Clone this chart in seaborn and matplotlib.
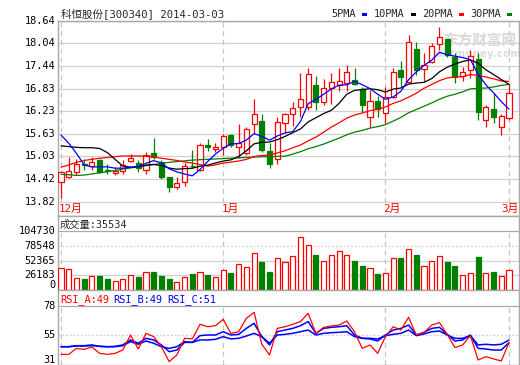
import numpy as np
import pandas as pd
import matplotlib
matplotlib.use("Agg")
import matplotlib.pyplot as plt
import matplotlib.transforms as mtrans
from matplotlib.patches import Rectangle
import seaborn as sns

# ---------------- data ----------------
title = "科恒股份[300340] 2014-03-03"
opens = [14.34, 14.47, 14.60, 14.83, 14.78, 14.93, 14.67, 14.59, 14.63, 14.91,
         14.86, 14.66, 15.11, 14.89, 14.47, 14.20, 14.34, 14.78, 14.67, 15.33,
         15.22, 15.27, 15.60, 15.27, 15.11, 15.88, 15.98, 15.17, 14.96, 15.91,
         16.15, 16.34, 16.34, 16.93, 16.49, 16.84, 16.93, 16.98, 17.06, 16.82,
         16.07, 16.51, 16.18, 16.60, 17.33, 17.00, 17.88, 17.35, 17.55, 18.02,
         18.15, 17.69, 17.18, 17.33, 17.62, 16.00, 16.29, 15.82, 16.05]
highs = [14.65, 15.02, 14.96, 14.96, 15.00, 14.96, 14.83, 14.75, 14.93, 15.09,
         14.93, 15.14, 15.53, 14.92, 14.48, 14.47, 14.84, 15.20, 15.38, 15.49,
         15.38, 15.62, 15.62, 15.89, 15.80, 16.56, 16.16, 15.38, 16.07, 16.19,
         16.49, 17.24, 17.38, 17.17, 17.08, 17.24, 17.38, 17.46, 17.38, 16.89,
         16.80, 16.64, 16.87, 17.39, 17.57, 18.26, 18.09, 17.78, 18.04, 18.49,
         18.17, 17.78, 17.42, 17.87, 17.78, 16.40, 16.73, 16.16, 16.95]
lows = [13.91, 14.45, 14.53, 14.66, 14.67, 14.58, 14.55, 14.53, 14.55, 14.89,
        14.60, 14.57, 14.97, 14.42, 14.07, 14.15, 14.25, 14.71, 14.63, 15.16,
        15.15, 15.07, 15.27, 14.98, 15.06, 15.66, 15.15, 14.71, 14.83, 15.66,
        15.84, 16.09, 16.26, 16.26, 16.40, 16.42, 16.77, 16.77, 16.93, 16.22,
        15.82, 16.09, 15.91, 16.58, 16.89, 16.98, 17.20, 17.05, 17.51, 17.86,
        17.69, 16.98, 17.05, 17.11, 16.00, 15.80, 15.91, 15.60, 16.00]
closes = [14.60, 14.64, 14.82, 14.80, 14.87, 14.62, 14.64, 14.64, 14.80, 14.99,
          14.72, 15.07, 15.00, 14.48, 14.22, 14.31, 14.78, 14.76, 15.33, 15.29,
          15.29, 15.57, 15.33, 15.38, 15.75, 16.15, 15.20, 14.83, 15.94, 16.16,
          16.31, 16.55, 17.22, 16.49, 16.86, 17.02, 17.05, 17.27, 16.96, 16.40,
          16.51, 16.29, 16.60, 17.27, 17.15, 18.07, 17.33, 17.46, 17.97, 18.20,
          17.73, 17.15, 17.27, 17.71, 16.22, 16.35, 16.07, 16.10, 16.71]
volumes = [39100, 37300, 21600, 18700, 25100, 25600, 18700, 16400, 19900, 26900,
           23900, 32100, 32600, 25600, 18700, 14700, 23400, 29100, 32100, 27400,
           22200, 34900, 30900, 46100, 41400, 65300, 49600, 32100, 56600, 49600,
           60000, 93200, 79200, 62300, 51300, 61800, 68800, 61800, 51800, 43100,
           39100, 29100, 30400, 56600, 57100, 72300, 62300, 42600, 51300, 60000,
           50100, 43100, 26900, 30400, 58800, 30400, 32600, 25600, 35534]
# moving-average values visible before enough in-window history exists
ma5_head = [15.60, 15.38, 15.11, 14.80]
ma10_head = [15.31, 15.29, 15.27, 15.26, 15.26, 15.24, 15.13, 14.95, 14.77]
ma20_head = [14.74, 14.80, 14.87, 14.92, 14.95, 14.98, 15.00, 15.02, 15.04, 15.04,
             15.04, 15.03, 15.01, 14.98, 14.95, 14.92, 14.88, 14.85, 14.81]
ma30_head = [14.55, 14.54, 14.52, 14.53, 14.56, 14.59, 14.62, 14.65, 14.69, 14.72,
             14.75, 14.78, 14.81, 14.84, 14.87, 14.89, 14.91, 14.93, 14.94, 14.95,
             14.96, 14.97, 14.98, 14.99, 15.00, 15.01, 15.02, 15.02, 15.03]
rsi_a = [39.8, 39.8, 44.5, 43.7, 45.6, 40.6, 39.8, 40.6, 43.2, 55.0,
         44.0, 56.3, 53.7, 45.8, 34.1, 39.3, 52.4, 51.9, 63.4, 61.5,
         62.3, 67.3, 56.3, 57.6, 68.1, 72.8, 47.7, 39.3, 60.2, 61.5,
         63.4, 65.5, 72.0, 56.3, 61.0, 62.1, 62.8, 66.0, 57.6, 44.5,
         47.2, 40.6, 53.7, 61.5, 58.9, 68.9, 55.0, 56.8, 62.8, 64.7,
         55.5, 45.1, 47.2, 54.5, 35.4, 38.0, 36.2, 34.6, 49.0]
rsi_b = [45.8, 45.8, 46.6, 46.6, 47.2, 46.1, 45.8, 46.1, 47.2, 51.1,
         48.5, 52.4, 51.1, 47.2, 41.9, 43.2, 49.2, 49.2, 54.5, 55.0,
         55.0, 57.6, 55.0, 55.5, 60.2, 64.2, 53.7, 47.2, 57.6, 58.9,
         60.2, 62.3, 65.5, 56.3, 60.2, 61.0, 61.5, 62.3, 55.0, 52.4,
         51.9, 50.3, 55.0, 58.9, 60.2, 62.8, 55.0, 57.1, 60.2, 61.0,
         55.5, 50.3, 51.1, 55.0, 44.5, 44.0, 43.2, 43.2, 49.0]
rsi_c = [45.8, 45.8, 46.4, 46.4, 46.6, 46.1, 45.8, 45.8, 46.6, 49.8,
         47.7, 50.3, 48.5, 45.8, 44.5, 45.8, 49.8, 49.2, 51.1, 51.1,
         51.6, 53.7, 51.9, 52.4, 54.2, 56.3, 53.7, 48.5, 55.0, 55.5,
         56.3, 57.6, 58.9, 55.0, 56.3, 56.8, 57.1, 57.6, 53.7, 52.4,
         52.4, 51.9, 54.5, 55.5, 56.3, 58.9, 54.5, 55.8, 57.6, 58.1,
         55.0, 52.4, 52.4, 54.5, 47.2, 47.7, 47.2, 47.7, 51.0]
month_labels = ["12月", "1月", "2月", "3月"]
month_starts = [0, 21, 42, 58]
price_ticks = [13.82, 14.42, 15.03, 15.63, 16.23, 16.83, 17.44, 18.04, 18.64]
vol_ticks = [0, 26183, 52365, 78548, 104730]
rsi_ticks = [31, 55, 78]
ma_names = ["5PMA", "10PMA", "20PMA", "30PMA"]

# ---------------- derived ----------------
n = len(closes)
idx = np.arange(n)
cs = pd.Series(closes)
def moving(win, head):
    m = cs.rolling(win).mean().to_numpy()
    m[:len(head)] = head
    return m
ma5 = moving(5, ma5_head)
ma10 = moving(10, ma10_head)
ma20 = moving(20, ma20_head)
ma30 = moving(30, ma30_head)

RED = "#ff0000"
GREEN = "#008000"
BLUE = "#0000ff"
FRAME = "#a8a8a8"
GRID = "#d0d0d0"
MONO = "DejaVu Sans Mono"
CJK = ["DejaVu Sans Mono", "Noto Sans CJK SC"]

sns.set_style("white")
plt.rcParams["font.family"] = ["DejaVu Sans", "Noto Sans CJK SC"]

W, H = 520, 365
fig = plt.figure(figsize=(W / 100, H / 100), dpi=100)

def rect(x0, y0, x1, y1):
    return [x0 / W, 1 - y1 / H, (x1 - x0) / W, (y1 - y0) / H]

step = 7.724
XL = (-(61 - 58) / step, 58 + (519 - 509.0) / step)

# ---- price panel ----
axp = fig.add_axes(rect(58, 21, 519, 216))
pscale = 37.5
axp.set_ylim(13.82 - (216 - 201.7) / pscale, 18.64)
axp.set_xlim(*XL)

# ---- volume panel ----
axv = fig.add_axes(rect(58, 216, 519, 290))
axv.set_ylim(0, 104730 * (290 - 216) / (290 - 231))
axv.set_xlim(*XL)

# ---- RSI panel ----
axr = fig.add_axes(rect(58, 290, 519, 365))
rscale = (335 - 305.7) / 23.0
axr.set_ylim(55 - (365 - 335) / rscale, 78 + (305.7 - 290) / rscale)
axr.set_xlim(*XL)

for ax in (axp, axv, axr):
    ax.set_facecolor("white")
    ax.set_xticks([])
    ax.set_yticks([])
    for s in ax.spines.values():
        s.set_color(FRAME)
        s.set_linewidth(1.0)
        s.set_visible(True)

# gridlines
for t in price_ticks:
    axp.axhline(t, color=GRID if t != 18.64 else FRAME, lw=0.9, zorder=0)
for t in vol_ticks[1:]:
    ls = (0, (1.5, 1.5)) if t == 78548 else "-"
    axv.axhline(t, color=GRID if t != 104730 else FRAME, lw=0.9, ls=ls, zorder=0)
axr.axhline(55, color=GRID, lw=0.9, ls=(0, (1.5, 1.5)), zorder=0)
axr.axhline(78, color=FRAME, lw=0.9, zorder=0)

# month dashed lines
for m in month_starts:
    axp.vlines(m, 13.82, 18.64, color="#c4c4c4", lw=0.9, ls=(0, (4, 3)), zorder=0)
    axv.vlines(m, 0, 104730, color="#c4c4c4", lw=0.9, ls=(0, (4, 3)), zorder=0)
    axr.vlines(m, axr.get_ylim()[0], 78, color="#c4c4c4", lw=0.9, ls=(0, (4, 3)), zorder=0)

# watermark
axp.text(0.915, 0.9, "东方财富网", transform=axp.transAxes, ha="center", va="center",
         fontsize=10.5, fontweight="bold", color="#d9d9d9", family=["Noto Sans CJK SC"], zorder=0.5)
axp.text(0.905, 0.83, "eastmoney.com", transform=axp.transAxes, ha="center", va="center",
         fontsize=7.5, fontweight="bold", color="#dcdcdc", family="DejaVu Sans", zorder=0.5)

# candles
bw = 0.66
for i in range(n):
    o, h, l, c = opens[i], highs[i], lows[i], closes[i]
    up = c >= o
    col = RED if up else GREEN
    lo_b, hi_b = min(o, c), max(o, c)
    hgt = max(hi_b - lo_b, 0.012)
    if up:
        axp.vlines(i, hi_b, h, color=col, lw=0.9, zorder=2)
        axp.vlines(i, l, lo_b, color=col, lw=0.9, zorder=2)
        axp.bar(i, hgt, bottom=lo_b, width=bw, facecolor="white", edgecolor=col, linewidth=0.9, zorder=3)
    else:
        axp.vlines(i, l, h, color=col, lw=0.9, zorder=2)
        axp.bar(i, hgt, bottom=lo_b, width=bw, facecolor=col, edgecolor=col, linewidth=0.9, zorder=3)

ma_df = pd.DataFrame({"idx": idx, "ma5": ma5, "ma10": ma10, "ma20": ma20, "ma30": ma30})
for col, clr in (("ma30", GREEN), ("ma20", RED), ("ma10", "black"), ("ma5", BLUE)):
    sns.lineplot(data=ma_df, x="idx", y=col, ax=axp, color=clr, linewidth=0.9, zorder=4)

# volume bars
for i in range(n):
    up = closes[i] >= opens[i]
    col = RED if up else GREEN
    axv.bar(i, volumes[i], width=bw, facecolor="white" if up else col, edgecolor=col,
            linewidth=0.9, zorder=3)

# RSI lines
rsi_df = pd.DataFrame({"idx": idx, "a": rsi_a, "b": rsi_b, "c": rsi_c})
sns.lineplot(data=rsi_df, x="idx", y="c", ax=axr, color=BLUE, linewidth=1.1, zorder=3)
sns.lineplot(data=rsi_df, x="idx", y="b", ax=axr, color=BLUE, linewidth=1.1, zorder=3)
sns.lineplot(data=rsi_df, x="idx", y="a", ax=axr, color=RED, linewidth=0.9, zorder=4)
for ax in (axp, axv, axr):
    ax.set_xlabel("")
    ax.set_ylabel("")
    ax.set_xticks([])

# y labels
def ylab(ax, val, txt, va="center"):
    tr = mtrans.blended_transform_factory(ax.transAxes, ax.transData)
    ax.text(-0.006, val, txt, transform=tr, ha="right", va=va, fontsize=7.4,
            family=MONO, color="black", clip_on=False)

for t in price_ticks:
    ylab(axp, t, f"{t:.2f}")
for t in vol_ticks:
    ylab(axv, t, str(t), va="bottom" if t == 0 else "center")
for t in rsi_ticks:
    if t == 31:
        ylab(axr, axr.get_ylim()[0], "31", va="bottom")
    else:
        ylab(axr, t, str(t))

# month labels
trm = mtrans.blended_transform_factory(axp.transData, axp.transAxes)
ymon = (216 - 208.5) / (216 - 21)
for k, (m, lab) in enumerate(zip(month_starts, month_labels)):
    if k == len(month_starts) - 1:
        axp.text(0.999, ymon, lab, transform=axp.transAxes, ha="right", va="center",
                 fontsize=7.8, color=RED, family=CJK)
    else:
        axp.text(m - 0.25, ymon, lab, transform=trm, ha="left", va="center",
                 fontsize=7.8, color=RED, family=CJK)

# headers
fig.text(61 / W, 1 - 13.5 / H, title, ha="left", va="center", fontsize=7.6, family=CJK)
fig.text(60 / W, 1 - 224.5 / H, "成交量:" + str(volumes[-1]), ha="left", va="center",
         fontsize=7.4, family=CJK)
rx = 60
for name, val, clr in (("RSI_A", rsi_a[-1], RED), ("RSI_B", rsi_b[-1], BLUE), ("RSI_C", rsi_c[-1], BLUE)):
    s = f"{name}:{val:.0f}"
    fig.text(rx / W, 1 - 299.5 / H, s, ha="left", va="center", fontsize=7.4, family=MONO, color=clr)
    rx += (len(s) + 1) * 5.95

# legend
lx = [331, 374, 422, 470]
for x0, name, clr in zip(lx, ma_names, (BLUE, "black", RED, GREEN)):
    fig.text(x0 / W, 1 - 14 / H, name, ha="left", va="center", fontsize=7.4, family=MONO)
    wpx = len(name) * 6.2 + 6
    fig.patches.append(Rectangle(((x0 + wpx) / W, 1 - 15.5 / H), 5 / W, 3 / H,
                                 transform=fig.transFigure, facecolor=clr, edgecolor="none"))

fig.savefig("out.png", dpi=100, facecolor="white")
